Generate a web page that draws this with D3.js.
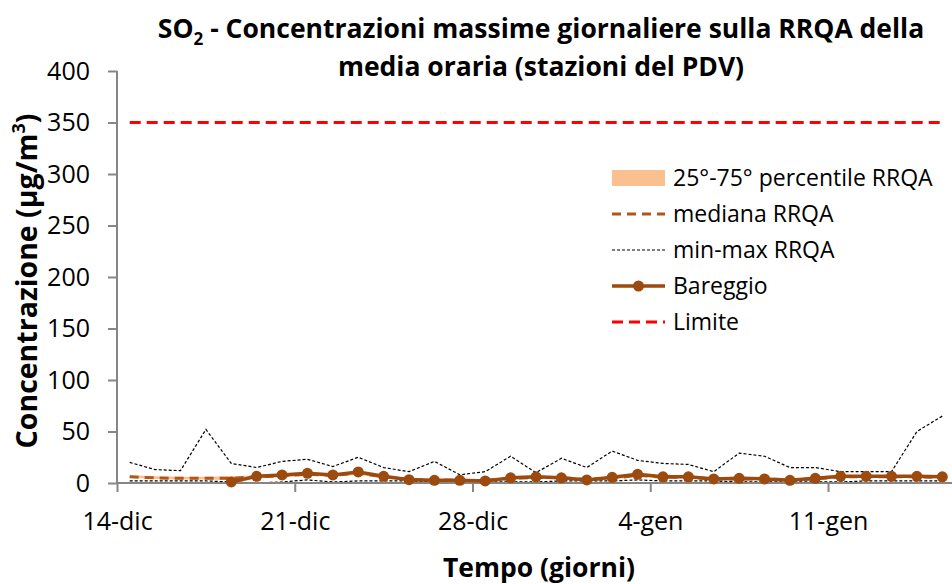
<!DOCTYPE html>
<head>
  <meta http-equiv="Content-Type" content="text/html; charset=utf-8">
  <style>
    body { margin: 0; background: #fff; }
    text { font-family: "Open Sans", sans-serif; fill: #000; }
  </style>
</head>
<body></body>
<script src="https://cdn.jsdelivr.net/npm/d3@7"></script>
<script>

var width = 952,
    height = 584;

// Inputs
var days = ["2012-12-14","2012-12-15","2012-12-16","2012-12-17","2012-12-18","2012-12-19","2012-12-20",
            "2012-12-21","2012-12-22","2012-12-23","2012-12-24","2012-12-25","2012-12-26","2012-12-27",
            "2012-12-28","2012-12-29","2012-12-30","2012-12-31","2013-01-01","2013-01-02","2013-01-03",
            "2013-01-04","2013-01-05","2013-01-06","2013-01-07","2013-01-08","2013-01-09","2013-01-10",
            "2013-01-11","2013-01-12","2013-01-13","2013-01-14","2013-01-15"];

var maxRRQA = [20,13,12,52,19,15,21,23,16,25,15,11,21,8,11,26,10,24,15,31,22,19,18,11,29,26,15,15,11,11,11,50,65];
var minRRQA = [2,2,2,2,1,0,1,3,1,2,2,2,1,1,1,1,1,2,2,2,3,2,2,2,1,1,1,1,1,2,2,2,2];
var medRRQA = [6,5,4.5,4.5,4.5,6,7,8.5,7.5,9.5,6,3.5,3,2.5,2.5,4.5,5.5,5,3.5,4.5,7.5,5.5,5.5,4,4,4,3,4,6,6,6,6,5.5];
var p25RRQA = [5,4,3.5,3.5,3,4.5,5.5,7,6,8,4.5,2.5,2,2,2,3.5,4,4,2.5,3.5,6,4.5,4.5,3,3,3,2,3,5,5,5,5,4.5];
var p75RRQA = [7.5,6.5,6,6,6.5,7.5,8.5,10,9,11.5,7.5,4.5,4,3.5,3.5,5.5,6.5,6,4.5,6,9,7,7,5,5,5,4,5.5,7.5,7.5,7.5,7.5,7];
var bareggio = [null,null,null,null,1,6.5,7.8,9.4,7.8,10.7,6.5,3.2,2.6,2.6,2,5,6,5,3,5.5,8.4,6,6,4,4.5,4,2.6,4.5,6.5,6.5,6.5,6.5,6];
var limite = 350;

var yTicks = [0,50,100,150,200,250,300,350,400];
var xTickDays = ["2012-12-14","2012-12-21","2012-12-28","2013-01-04","2013-01-11"];

var itLocale = d3.timeFormatLocale({
  dateTime: "%A %e %B %Y, %X", date: "%d/%m/%Y", time: "%H:%M:%S",
  periods: ["AM","PM"],
  days: ["domenica","lunedì","martedì","mercoledì","giovedì","venerdì","sabato"],
  shortDays: ["dom","lun","mar","mer","gio","ven","sab"],
  months: ["gennaio","febbraio","marzo","aprile","maggio","giugno","luglio","agosto","settembre","ottobre","novembre","dicembre"],
  shortMonths: ["gen","feb","mar","apr","mag","giu","lug","ago","set","ott","nov","dic"]
});
var fmt = itLocale.format("%-d-%b");
var parse = d3.utcParse("%Y-%m-%d");
var dates = days.map(parse);

var xs = d3.scaleUtc()
    .domain([dates[0], d3.utcDay.offset(dates[dates.length-1], 1)])
    .range([117, 955]);
var xc = function(i){ return xs(d3.utcHour.offset(dates[i], 12)); };
var ys = d3.scaleLinear()
    .domain([0, 400])
    .range([483, 71]);

var svg = d3.select("body").append("svg")
    .attr("width", width)
    .attr("height", height);

// band 25-75
var band = d3.area()
    .x(function(d,i){ return xc(i); })
    .y0(function(d,i){ return ys(p25RRQA[i]); })
    .y1(function(d,i){ return ys(p75RRQA[i]); });
svg.append("path").datum(days)
    .attr("d", band)
    .attr("fill", "#FAC090");

function line(arr){
  return d3.line()
    .defined(function(d){ return d != null; })
    .x(function(d,i){ return xc(i); })
    .y(function(d){ return ys(d); })(arr);
}

svg.append("path").attr("d", line(minRRQA))
    .attr("fill","none").attr("stroke","#000").attr("stroke-width",1.2).attr("stroke-dasharray","3,2");
svg.append("path").attr("d", line(maxRRQA))
    .attr("fill","none").attr("stroke","#000").attr("stroke-width",1.2).attr("stroke-dasharray","3,2");
svg.append("path").attr("d", line(medRRQA))
    .attr("fill","none").attr("stroke","#B0561A").attr("stroke-width",3).attr("stroke-dasharray","9,6");

// axes
var yAxis = svg.append("g")
    .attr("transform","translate(117,0)")
    .call(d3.axisLeft(ys).tickValues(yTicks).tickSize(9).tickPadding(18));
var xAxis = svg.append("g")
    .attr("transform","translate(0,483)")
    .call(d3.axisBottom(xs).tickValues(xTickDays.map(parse)).tickFormat(fmt).tickSize(9).tickPadding(20));
[yAxis, xAxis].forEach(function(a){
  a.select(".domain").attr("stroke","#868686").attr("stroke-width",2);
  a.selectAll(".tick line").attr("stroke","#868686").attr("stroke-width",2);
  a.selectAll(".tick text").attr("font-family","Open Sans").attr("font-size",25).attr("fill","#000");
});
xAxis.select(".domain").attr("d","M117,0H955");
yAxis.select(".domain").attr("d","M0,71V483");

// bareggio
svg.append("path").attr("d", line(bareggio))
    .attr("fill","none").attr("stroke","#9C4A0E").attr("stroke-width",3.5);
svg.selectAll(".pt")
    .data(bareggio.map(function(v,i){ return {v:v, i:i}; }).filter(function(d){ return d.v != null; }))
    .enter().append("circle")
    .attr("class","pt")
    .attr("cx", function(d){ return xc(d.i); })
    .attr("cy", function(d){ return ys(d.v); })
    .attr("r", 5.5)
    .attr("fill","#9C4A0E");

// limite
svg.append("line")
    .attr("x1", xc(0)).attr("x2", xc(days.length-1))
    .attr("y1", ys(limite)).attr("y2", ys(limite))
    .attr("stroke","#FF0000").attr("stroke-width",3).attr("stroke-dasharray","11,6");

// title
var title = svg.append("text")
    .attr("text-anchor","middle").attr("font-weight","bold").attr("font-size",26.5);
var t1 = title.append("tspan").attr("x",541).attr("y",38);
t1.append("tspan").text("SO");
t1.append("tspan").attr("font-size",17).attr("dy",7).text("2");
t1.append("tspan").attr("dy",-7).text(" - Concentrazioni massime giornaliere sulla RRQA della");
title.append("tspan").attr("x",541).attr("y",76).text("media oraria (stazioni del PDV)");

svg.append("text")
    .attr("x",539).attr("y",577)
    .attr("text-anchor","middle").attr("font-weight","bold").attr("font-size",26.5)
    .text("Tempo (giorni)");

var yt = svg.append("text")
    .attr("transform","translate(37,281) rotate(-90)")
    .attr("text-anchor","middle").attr("font-weight","bold").attr("font-size",28.5);
yt.append("tspan").text("Concentrazione (µg/m");
yt.append("tspan").attr("font-size",18).attr("dy",-12).text("3");
yt.append("tspan").attr("dy",12).text(")");

// legend
var legendY = [178,214,250,286,322];
var legendLabels = ["25°-75° percentile RRQA","mediana RRQA","min-max RRQA","Bareggio","Limite"];
var lg = svg.append("g");
lg.append("rect").attr("x",612).attr("y",legendY[0]-8).attr("width",53).attr("height",16).attr("fill","#FAC090");
lg.append("line").attr("x1",612).attr("x2",665).attr("y1",legendY[1]).attr("y2",legendY[1])
    .attr("stroke","#B0561A").attr("stroke-width",3).attr("stroke-dasharray","9,6");
lg.append("line").attr("x1",612).attr("x2",665).attr("y1",legendY[2]).attr("y2",legendY[2])
    .attr("stroke","#000").attr("stroke-width",1.2).attr("stroke-dasharray","3,2");
lg.append("line").attr("x1",612).attr("x2",665).attr("y1",legendY[3]).attr("y2",legendY[3])
    .attr("stroke","#9C4A0E").attr("stroke-width",3.5);
lg.append("circle").attr("cx",638.5).attr("cy",legendY[3]).attr("r",5.5).attr("fill","#9C4A0E");
lg.append("line").attr("x1",612).attr("x2",665).attr("y1",legendY[4]).attr("y2",legendY[4])
    .attr("stroke","#FF0000").attr("stroke-width",3).attr("stroke-dasharray","11,6");
lg.selectAll(".lt").data(legendLabels).enter().append("text")
    .attr("class","lt")
    .attr("x",673).attr("y",function(d,i){ return legendY[i]+8; })
    .attr("font-size",23)
    .text(function(d){ return d; });

</script>
</html>
